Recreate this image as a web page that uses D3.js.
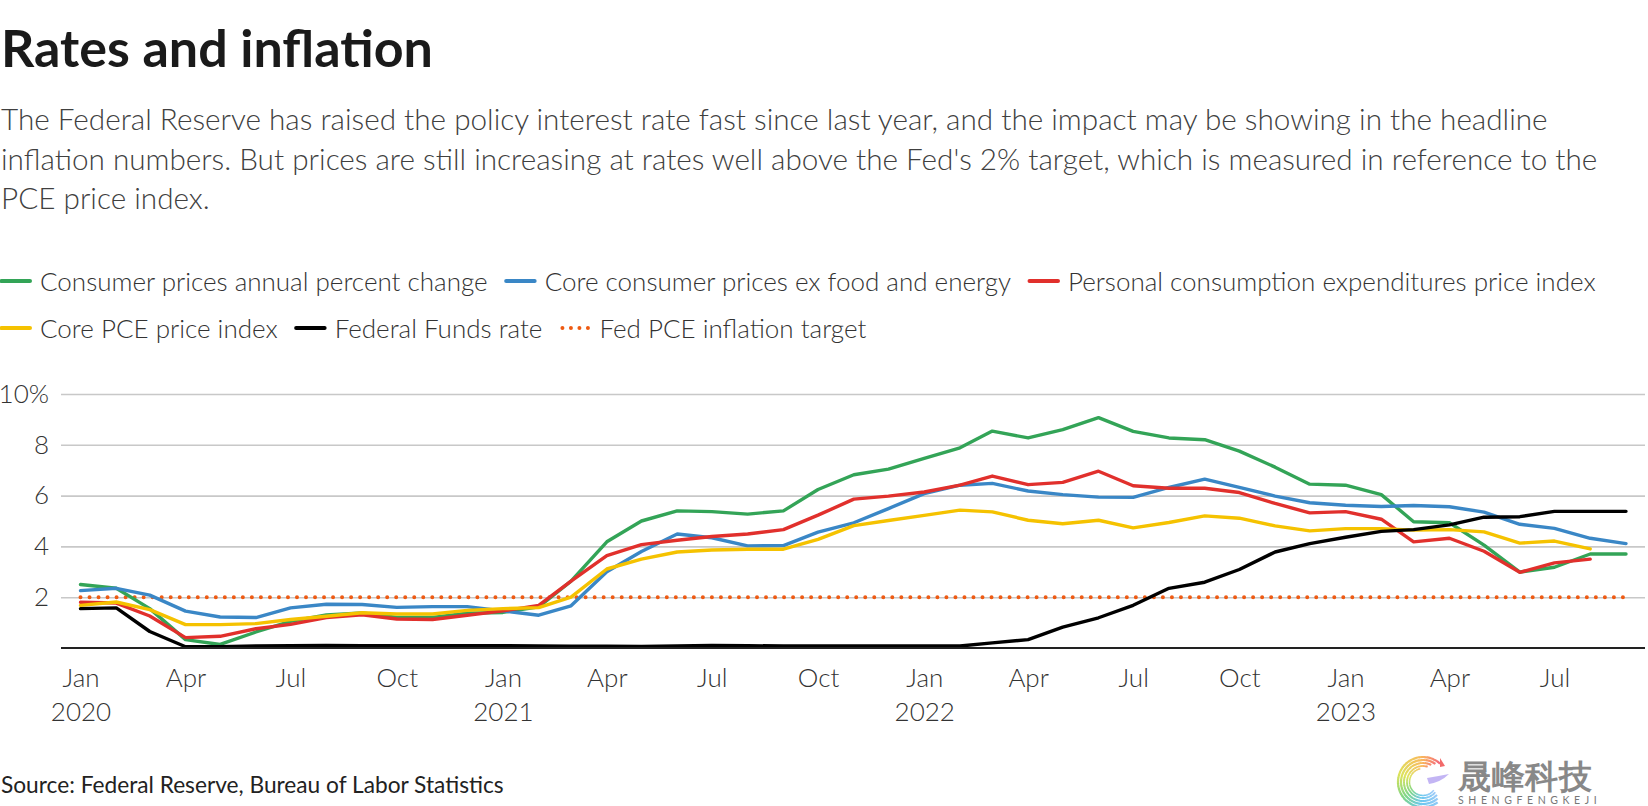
<!DOCTYPE html>
<html>
<head>
<meta charset="utf-8">
<script src="https://cdn.jsdelivr.net/npm/d3@7"></script>
<style>
  html, body { margin: 0; padding: 0; background: #fff; }
  svg { display: block; }
  text { font-family: "Lato", "Open Sans", sans-serif; }
</style>
</head>
<body>
<svg id="chart" width="1648" height="806"></svg>
<script>
// ---------------- DATA ----------------
const startMonth = "2020-01";
const cpi = [2.5, 2.35, 1.55, 0.33, 0.14, 0.63, 1.05, 1.3, 1.38, 1.2, 1.2, 1.37, 1.4, 1.62, 2.63, 4.18, 5.0, 5.4, 5.37, 5.27, 5.4, 6.24, 6.82, 7.04, 7.47, 7.88, 8.54, 8.27, 8.6, 9.07, 8.53, 8.27, 8.2, 7.75, 7.12, 6.45, 6.41, 6.04, 4.97, 4.93, 4.05, 2.99, 3.18, 3.7, 3.7];
const coreCpi = [2.26, 2.35, 2.08, 1.45, 1.22, 1.2, 1.58, 1.72, 1.71, 1.6, 1.63, 1.63, 1.46, 1.29, 1.66, 3.0, 3.8, 4.49, 4.34, 4.02, 4.03, 4.56, 4.93, 5.49, 6.08, 6.41, 6.48, 6.18, 6.04, 5.94, 5.93, 6.32, 6.65, 6.32, 5.98, 5.72, 5.62, 5.57, 5.61, 5.56, 5.35, 4.87, 4.71, 4.32, 4.11];
const pce = [1.8, 1.77, 1.26, 0.41, 0.46, 0.76, 0.93, 1.2, 1.31, 1.14, 1.12, 1.29, 1.46, 1.68, 2.63, 3.64, 4.07, 4.24, 4.39, 4.49, 4.66, 5.23, 5.86, 5.98, 6.14, 6.41, 6.77, 6.43, 6.52, 6.96, 6.39, 6.29, 6.29, 6.12, 5.69, 5.32, 5.37, 5.07, 4.18, 4.32, 3.81, 2.98, 3.35, 3.5];
const corePce = [1.68, 1.81, 1.51, 0.92, 0.92, 0.96, 1.12, 1.25, 1.39, 1.34, 1.34, 1.48, 1.55, 1.59, 2.0, 3.11, 3.5, 3.78, 3.86, 3.89, 3.89, 4.28, 4.82, 5.02, 5.22, 5.43, 5.36, 5.03, 4.89, 5.03, 4.73, 4.94, 5.2, 5.11, 4.81, 4.61, 4.7, 4.7, 4.64, 4.66, 4.57, 4.13, 4.21, 3.9];
const fedFunds = [1.55, 1.58, 0.65, 0.05, 0.05, 0.08, 0.09, 0.1, 0.09, 0.09, 0.09, 0.09, 0.09, 0.08, 0.07, 0.07, 0.06, 0.08, 0.1, 0.09, 0.08, 0.08, 0.08, 0.08, 0.08, 0.08, 0.2, 0.33, 0.82, 1.19, 1.68, 2.35, 2.59, 3.09, 3.78, 4.11, 4.36, 4.59, 4.66, 4.85, 5.15, 5.17, 5.38, 5.38, 5.38];
const targetValue = 2;
const targetMonths = 45;

const seriesNames = ["Consumer prices annual percent change", "Core consumer prices ex food and energy", "Personal consumption expenditures price index", "Core PCE price index", "Federal Funds rate", "Fed PCE inflation target"];
const yTicks = [2, 4, 6, 8, 10];
const monthLabels = ["Jan", "Apr", "Jul", "Oct"];
const yearLabels = ["2020", "2021", "2022", "2023"];

const titleText = "Rates and inflation";
const subtitleLines = [
  "The Federal Reserve has raised the policy interest rate fast since last year, and the impact may be showing in the headline",
  "inflation numbers. But prices are still increasing at rates well above the Fed's 2% target, which is measured in reference to the",
  "PCE price index."
];
const sourceText = "Source: Federal Reserve, Bureau of Labor Statistics";

// ---------------- SETUP ----------------
const svg = d3.select("#chart");
const colors = ["#33a457", "#3a87c6", "#e1302c", "#f5c200", "#000000", "#ee5a12"];

const parseMonth = d3.timeParse("%Y-%m");
const t0 = parseMonth(startMonth);
const monthDate = i => d3.timeMonth.offset(t0, i);

const plotLeft = 61, plotRight = 1645;
const x = d3.scaleTime()
  .domain([t0, monthDate(44)])
  .range([80.5, 1626]);
const y = d3.scaleLinear().domain([0, 10]).range([648, 394]);

// Title
svg.append("text").attr("x", 1).attr("y", 67)
  .attr("font-size", 52).attr("font-weight", 700).attr("fill", "#1a1a1a")
  .text(titleText);

// Subtitle
svg.append("g").selectAll("text").data(subtitleLines).join("text")
  .attr("x", 1).attr("y", (d, i) => 130 + i * 39.5)
  .attr("font-size", 29.7).attr("font-weight", 300).attr("fill", "#404040")
  .text(d => d);

// Legend
const legendRows = [[0, 1, 2], [3, 4, 5]];
const legendY = [281, 328];
legendRows.forEach((row, r) => {
  let cx = 0;
  row.forEach(si => {
    const g = svg.append("g").attr("transform", `translate(${cx},${legendY[r]})`);
    if (si === 5) {
      g.append("line").attr("x1", 3).attr("x2", 30).attr("y1", 0).attr("y2", 0)
        .attr("stroke", colors[si]).attr("stroke-width", 4)
        .attr("stroke-linecap", "round").attr("stroke-dasharray", "0 8.5");
    } else {
      g.append("line").attr("x1", 1.5).attr("x2", 30).attr("y1", 0).attr("y2", 0)
        .attr("stroke", colors[si]).attr("stroke-width", 4)
        .attr("stroke-linecap", "round");
    }
    const t = g.append("text").attr("x", 40).attr("y", 9.5)
      .attr("font-size", 26).attr("font-weight", 300).attr("fill", "#333")
      .text(seriesNames[si]);
    cx += 40 + t.node().getComputedTextLength() + 17;
  });
});

// Y axis with gridlines
const yAxis = d3.axisLeft(y).tickValues(yTicks)
  .tickFormat(d => d === 10 ? "10%" : d)
  .tickSize(-(plotRight - plotLeft)).tickPadding(12);
const yg = svg.append("g").attr("transform", `translate(${plotLeft},0)`).call(yAxis);
yg.select(".domain").remove();
yg.selectAll(".tick line").attr("stroke", "#c8c8c8").attr("stroke-width", 1.6);
yg.selectAll(".tick text").attr("font-size", 26).attr("font-weight", 300)
  .attr("fill", "#333").attr("font-family", "Lato, sans-serif");

// X axis
const xTickDates = d3.range(0, 43, 3).map(monthDate);
const xAxis = d3.axisBottom(x).tickValues(xTickDates).tickSize(0)
  .tickFormat(d => monthLabels[d.getMonth() / 3]);
const xg = svg.append("g").attr("transform", `translate(0,${y(0)})`).call(xAxis);
xg.select(".domain").remove();
xg.selectAll(".tick text").attr("y", 39).attr("dy", 0)
  .attr("font-size", 26).attr("font-weight", 300).attr("fill", "#333")
  .attr("font-family", "Lato, sans-serif");
xg.selectAll(".tick").filter(d => d.getMonth() === 0).append("text")
  .attr("y", 73).attr("text-anchor", "middle")
  .attr("font-size", 26).attr("font-weight", 300).attr("fill", "#333")
  .text(d => yearLabels[d.getFullYear() - 2020]);

// Target line
const targetData = d3.range(targetMonths).map(i => ({ d: monthDate(i), v: targetValue }));
svg.append("path").datum([targetData[0], targetData[targetData.length - 1]])
  .attr("d", d3.line().x(p => x(p.d)).y(p => y(p.v)))
  .attr("fill", "none").attr("stroke", colors[5]).attr("stroke-width", 4)
  .attr("stroke-linecap", "round").attr("stroke-dasharray", "0 9.02");

// Series lines
const allSeries = [cpi, coreCpi, pce, corePce, fedFunds];
const line = d3.line().x((v, i) => x(monthDate(i))).y(v => y(v));
allSeries.forEach((s, si) => {
  svg.append("path").datum(s).attr("d", line)
    .attr("fill", "none").attr("stroke", colors[si]).attr("stroke-width", 3.4)
    .attr("stroke-linejoin", "round").attr("stroke-linecap", "round");
});

// Baseline axis
svg.append("line").attr("x1", plotLeft).attr("x2", plotRight)
  .attr("y1", y(0)).attr("y2", y(0)).attr("stroke", "#222").attr("stroke-width", 2);

// Source
svg.append("text").attr("x", 1).attr("y", 793)
  .attr("font-size", 22.7).attr("fill", "#222")
  .text(sourceText);

// Watermark logo: rainbow "C" swirl
const wm = svg.append("g").attr("transform", "translate(1423,782)");
const logoColor = d3.scaleLinear()
  .domain([0.7, 0, -1.2, -2.2, -3.0, -3.9])
  .range(["#f4606a", "#f8b24c", "#d9e04a", "#6fd17a", "#5cc2ee", "#8fc3f7"]);
const strands = [
  { r: 25, a0: 0.75, a1: -3.75, w: 2.2 },
  { r: 22, a0: 0.6, a1: -3.85, w: 2.2 },
  { r: 19, a0: 0.45, a1: -3.95, w: 2.0 },
  { r: 16, a0: 0.3, a1: -4.0, w: 1.8 },
  { r: 13.5, a0: -0.2, a1: -4.05, w: 1.5 }
];
strands.forEach(s => {
  const n = 40;
  for (let k = 0; k < n; k++) {
    const a = s.a0 + (s.a1 - s.a0) * k / n;
    const b = s.a0 + (s.a1 - s.a0) * (k + 1.15) / n;
    const arc = d3.arc().innerRadius(s.r - s.w / 2).outerRadius(s.r + s.w / 2)
      .startAngle(Math.min(a, b)).endAngle(Math.max(a, b));
    wm.append("path").attr("d", arc()).attr("fill", logoColor(a)).attr("opacity", 0.9);
  }
});
wm.append("path").attr("d", "M4,-4 Q16,-6 26,-8 Q18,0 6,2 Z").attr("fill", "#b9a8f2").attr("opacity", 0.85);
wm.append("path").attr("d", "M17,-24 L22,-16 L17,-15 Z").attr("fill", "#f26a6a");

svg.append("text").attr("x", 1458).attr("y", 788)
  .attr("font-family", "Noto Sans CJK SC").attr("font-weight", 700)
  .attr("font-size", 33).attr("fill", "#888").attr("letter-spacing", 0.5)
  .text("晟峰科技");
svg.append("text").attr("x", 1458).attr("y", 804)
  .attr("font-family", "Noto Sans").attr("font-size", 10.5)
  .attr("fill", "#777").attr("letter-spacing", 4.6)
  .text("SHENGFENGKEJI");
</script>
</body>
</html>
